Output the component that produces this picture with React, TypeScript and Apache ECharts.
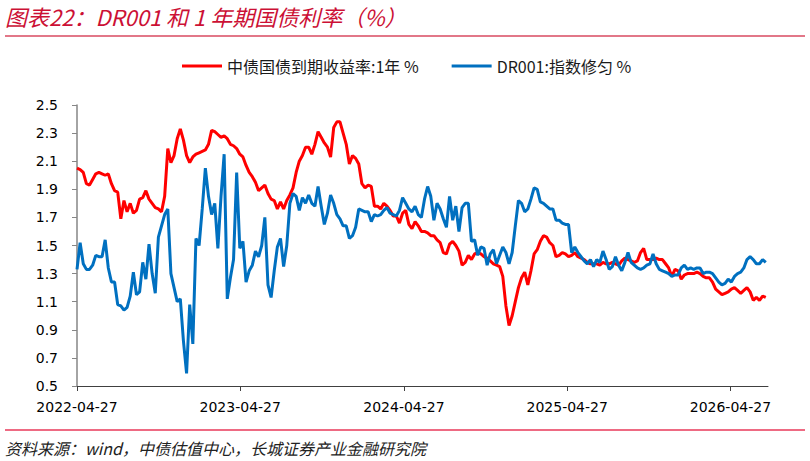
import React, { useEffect, useRef } from 'react';
import * as echarts from 'echarts';

const startDate = '2022-04-27';
const endDay = 1545;
const weekStep = 7;
const xTickLabels = ['2022-04-27', '2023-04-27', '2024-04-27', '2025-04-27', '2026-04-27'];
const yTickLabels = ['0.5', '0.7', '0.9', '1.1', '1.3', '1.5', '1.7', '1.9', '2.1', '2.3', '2.5'];
const seriesNames = ['中债国债到期收益率:1年 %', 'DR001:指数修匀 %'];

// weekly readings, first point on 2022-04-27
const gov1y = [
  2.05, 2.04, 2.02, 1.94, 1.93, 1.97, 2.01, 2.02, 2.01, 2.00,
  2.01, 1.94, 1.89, 1.88, 1.69, 1.82, 1.74, 1.80, 1.73, 1.75,
  1.83, 1.84, 1.89, 1.83, 1.80, 1.77, 1.76, 1.74, 1.85, 2.19,
  2.09, 2.14, 2.26, 2.33, 2.25, 2.14, 2.09, 2.13, 2.15, 2.16,
  2.17, 2.18, 2.22, 2.32, 2.31, 2.29, 2.27, 2.28, 2.26, 2.22,
  2.21, 2.19, 2.15, 2.13, 2.07, 2.02, 1.99, 1.95, 1.89, 1.91,
  1.93, 1.87, 1.83, 1.82, 1.76, 1.81, 1.76, 1.82, 1.86, 1.91,
  2.02, 2.10, 2.14, 2.20, 2.20, 2.15, 2.22, 2.31, 2.27, 2.23,
  2.20, 2.13, 2.34, 2.38, 2.38, 2.30, 2.22, 2.08, 2.14, 2.12,
  2.08, 1.94, 1.91, 1.93, 1.92, 1.78, 1.78, 1.76, 1.80, 1.78,
  1.75, 1.71, 1.71, 1.66, 1.73, 1.75, 1.65, 1.62, 1.67, 1.64,
  1.60, 1.60, 1.59, 1.57, 1.57, 1.54, 1.52, 1.45, 1.44, 1.51,
  1.53, 1.50, 1.46, 1.36, 1.38, 1.43, 1.40, 1.44, 1.45, 1.44,
  1.42, 1.41, 1.39, 1.37, 1.36, 1.35, 1.28, 1.07, 0.93, 1.00,
  1.10, 1.20, 1.27, 1.31, 1.22, 1.32, 1.44, 1.47, 1.53, 1.57,
  1.56, 1.52, 1.50, 1.42, 1.43, 1.45, 1.44, 1.42, 1.43, 1.45,
  1.42, 1.41, 1.40, 1.38, 1.37, 1.37, 1.37, 1.36, 1.38, 1.37,
  1.37, 1.38, 1.37, 1.36, 1.39, 1.41, 1.40, 1.39, 1.38, 1.39,
  1.45, 1.48, 1.40, 1.40, 1.40, 1.41, 1.40, 1.40, 1.37, 1.34,
  1.28, 1.33, 1.32, 1.26, 1.29, 1.30, 1.30, 1.30, 1.31, 1.30,
  1.28, 1.27, 1.27, 1.24, 1.19, 1.17, 1.15, 1.16, 1.17, 1.19,
  1.20, 1.18, 1.16, 1.18, 1.20, 1.17, 1.11, 1.13, 1.11, 1.14, 1.13,
];

const dr001 = [
  1.33, 1.52, 1.37, 1.33, 1.33, 1.36, 1.43, 1.42, 1.42, 1.54,
  1.34, 1.24, 1.24, 1.08, 1.07, 1.04, 1.06, 1.14, 1.31, 1.15,
  1.17, 1.38, 1.26, 1.51, 1.30, 1.16, 1.56, 1.64, 1.72, 1.76,
  1.30, 1.20, 1.10, 1.12, 0.82, 0.59, 1.08, 0.80, 1.55, 1.50,
  1.76, 2.05, 1.85, 1.72, 1.80, 1.48, 1.85, 2.15, 1.12, 1.27,
  1.40, 2.02, 1.48, 1.53, 1.24, 1.32, 1.36, 1.46, 1.42, 1.50,
  1.70, 1.22, 1.13, 1.32, 1.49, 1.55, 1.35, 1.50, 1.80, 1.87,
  1.85, 1.75, 1.84, 1.80, 1.86, 1.80, 1.78, 1.92, 1.78, 1.65,
  1.73, 1.86, 1.80, 1.72, 1.69, 1.64, 1.64, 1.55, 1.57, 1.63,
  1.76, 1.75, 1.74, 1.74, 1.67, 1.72, 1.71, 1.72, 1.75, 1.77,
  1.73, 1.72, 1.71, 1.75, 1.84, 1.80, 1.76, 1.74, 1.78, 1.72,
  1.70, 1.83, 1.92, 1.85, 1.68, 1.80, 1.76, 1.69, 1.63, 1.85,
  1.68, 1.78, 1.60, 1.77, 1.80, 1.80, 1.53, 1.54, 1.43, 1.49,
  1.48, 1.36, 1.44, 1.47, 1.37, 1.43, 1.49, 1.45, 1.37, 1.45,
  1.64, 1.82, 1.80, 1.74, 1.76, 1.83, 1.91, 1.90, 1.81, 1.80,
  1.78, 1.76, 1.76, 1.68, 1.68, 1.66, 1.65, 1.65, 1.45, 1.49,
  1.45, 1.42, 1.39, 1.37, 1.40, 1.35, 1.40, 1.38, 1.46, 1.40,
  1.33, 1.35, 1.42, 1.36, 1.32, 1.38, 1.45, 1.38, 1.36, 1.34,
  1.33, 1.34, 1.36, 1.37, 1.44, 1.37, 1.33, 1.32, 1.31, 1.30,
  1.28, 1.29, 1.29, 1.34, 1.36, 1.33, 1.34, 1.33, 1.34, 1.34,
  1.30, 1.31, 1.31, 1.30, 1.27, 1.24, 1.22, 1.23, 1.26, 1.24,
  1.28, 1.30, 1.31, 1.34, 1.40, 1.42, 1.40, 1.37, 1.37, 1.40, 1.38,
];

const titleText = '图表22：DR001 和 1 年期国债利率（%）';
const sourceText = '资料来源：wind，中债估值中心，长城证券产业金融研究院';

export default function App() {
  const ref = useRef<HTMLDivElement>(null);
  useEffect(() => {
    const chart = echarts.init(ref.current as HTMLDivElement, null, { renderer: 'svg' });
    const dayOf = (d: string) => Math.round((Date.parse(d) - Date.parse(startDate)) / 86400000);
    const xTickDays = xTickLabels.map(dayOf);
    const yTickValues = yTickLabels.map(Number);
    const toPoints = (arr: number[]) => arr.map((v, i) => [i * weekStep, v]);
    const cjk = '"Noto Sans CJK SC", "Noto Sans", sans-serif';

    chart.setOption({
      animation: false,
      backgroundColor: '#ffffff',
      grid: { left: 77, right: 42, top: 105, bottom: 75, containLabel: false },
      legend: {
        data: seriesNames,
        left: 182,
        top: 58,
        padding: 0,
        icon: 'rect',
        itemWidth: 40,
        itemHeight: 3,
        itemGap: 33,
        textStyle: { fontSize: 16, color: '#1a1a1a', fontFamily: cjk },
      },
      xAxis: {
        type: 'value',
        min: 0,
        max: endDay,
        axisLine: { show: true, lineStyle: { color: '#404040', width: 1 } },
        axisTick: { show: true, customValues: xTickDays, length: 5, lineStyle: { color: '#404040' } },
        axisLabel: {
          customValues: xTickDays,
          formatter: (v: number) => {
            const k = xTickDays.indexOf(Math.round(v));
            return k >= 0 ? xTickLabels[k] : '';
          },
          fontSize: 14,
          fontFamily: '"DejaVu Sans", sans-serif',
          color: '#000',
          margin: 14,
        },
        splitLine: { show: false },
      },
      yAxis: {
        type: 'value',
        min: 0.5,
        max: 2.5,
        axisLine: { show: true, lineStyle: { color: '#868686', width: 1.5 } },
        axisTick: { show: true, customValues: yTickValues, length: 5, lineStyle: { color: '#868686' } },
        axisLabel: {
          customValues: yTickValues,
          formatter: (v: number) => v.toFixed(1),
          fontSize: 14,
          fontFamily: '"DejaVu Sans", sans-serif',
          color: '#000',
          margin: 19,
        },
        splitLine: { show: false },
      },
      series: [
        {
          name: seriesNames[0],
          type: 'line',
          data: toPoints(gov1y),
          showSymbol: false,
          symbol: 'none',
          color: '#FF0000',
          lineStyle: { color: '#FF0000', width: 3 },
        },
        {
          name: seriesNames[1],
          type: 'line',
          data: toPoints(dr001),
          showSymbol: false,
          symbol: 'none',
          color: '#0070C0',
          lineStyle: { color: '#0070C0', width: 3 },
        },
      ],
      graphic: [
        {
          type: 'text',
          x: 5,
          y: 16,
          style: {
            text: titleText,
            font: `italic 22px ${cjk}`,
            fill: '#CC1035',
            verticalAlign: 'middle',
          },
        },
        {
          type: 'line',
          shape: { x1: 5, y1: 36, x2: 805, y2: 36 },
          style: { stroke: '#E27788', lineWidth: 2 },
        },
        {
          type: 'line',
          shape: { x1: 5, y1: 430, x2: 805, y2: 430 },
          style: { stroke: '#E8385A', lineWidth: 1.5 },
        },
        {
          type: 'text',
          x: 5,
          y: 448,
          style: {
            text: sourceText,
            font: `italic 16px ${cjk}`,
            fill: '#222',
            verticalAlign: 'middle',
          },
        },
      ],
    });
    return () => chart.dispose();
  }, []);
  return <div ref={ref} style={{ position: 'absolute', left: 0, top: 0, width: 810, height: 461 }} />;
}
